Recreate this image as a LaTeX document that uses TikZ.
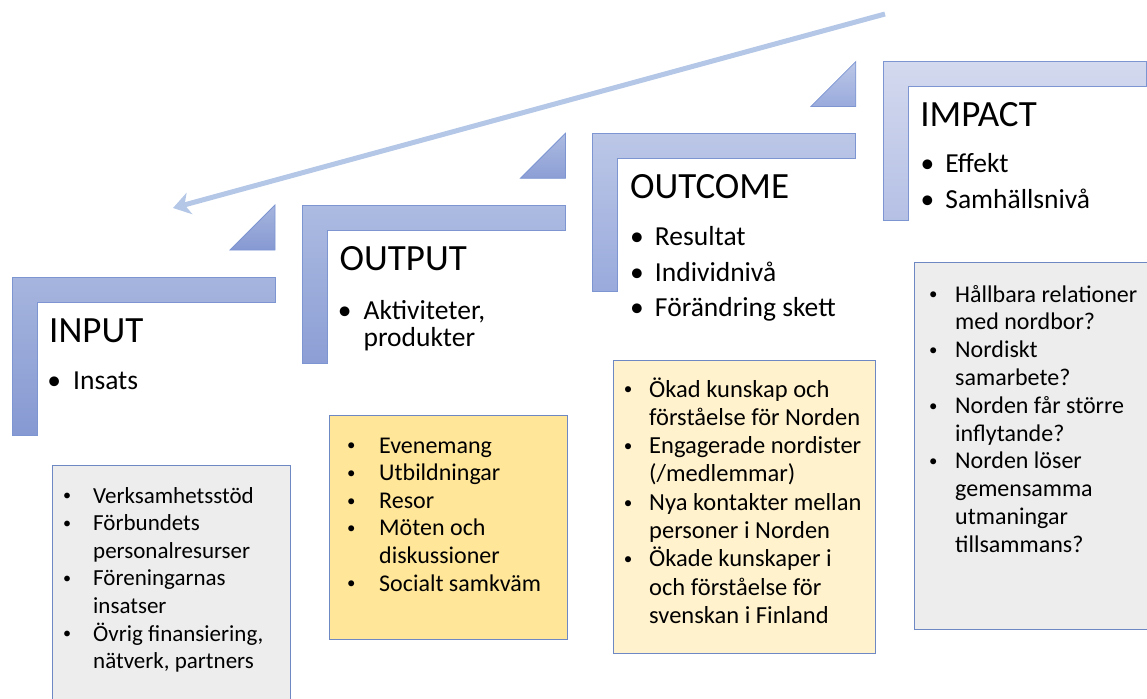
\documentclass[tikz,border=0pt]{standalone}
\usepackage{fontspec}
\setmainfont{Carlito}
\usetikzlibrary{arrows.meta}

\definecolor{stepAtop}{RGB}{166,181,222}
\definecolor{stepAbot}{RGB}{134,153,210}
\definecolor{stepBtop}{RGB}{172,187,225}
\definecolor{stepBbot}{RGB}{140,158,213}
\definecolor{stepCtop}{RGB}{188,199,231}
\definecolor{stepCbot}{RGB}{153,170,220}
\definecolor{stepDtop}{RGB}{211,217,238}
\definecolor{stepDbot}{RGB}{181,192,229}
\definecolor{stepline}{RGB}{125,150,210}
\definecolor{boxline}{RGB}{110,136,196}
\definecolor{graybox}{RGB}{237,237,237}
\definecolor{yellowbox}{RGB}{255,230,153}
\definecolor{paleyellow}{RGB}{255,242,204}
\definecolor{backarrow}{RGB}{180,199,231}

\newcommand{\headfont}{\fontsize{37}{44}\selectfont}
\newcommand{\stepfont}{\fontsize{27.5}{27}\selectfont}
\newcommand{\bul}[1]{\hspace*{#1pt}\makebox[0pt]{\textbullet}}
\newcommand{\sbul}[1]{\hspace*{#1pt}\makebox[0pt]{\raisebox{0.09em}{\scalebox{0.7}{\textbullet}}}}

\begin{document}
\begin{tikzpicture}[x=1pt,y=-1pt,
  stepshape/.style={draw=stepline,line width=0.8pt},
  headtext/.style={anchor=base west,inner sep=0pt,font=\headfont},
  steplist/.style={anchor=base west,inner sep=0pt,font=\stepfont},
  listbox/.style={draw=boxline,line width=1.2pt,anchor=north west,inner sep=0pt},
  boxtext/.style={anchor=base west,inner sep=0pt}]
\useasboundingbox (0,0) rectangle (1147,698);

% arrow back from impact to input
\coordinate (arrowtail) at (885,14);
\coordinate (arrowtip) at (173,208);
\draw[backarrow,line width=5pt,-{Stealth[length=17pt,width=22pt,inset=5pt]}] (arrowtail) -- (arrowtip);

% the four steps
\foreach \i/\ct/\cb/\head in {0/stepAtop/stepAbot/INPUT,1/stepBtop/stepBbot/OUTPUT,2/stepCtop/stepCbot/OUTCOME,3/stepDtop/stepDbot/IMPACT} {
\pgfmathsetmacro{\x}{12+290.4*\i}
\pgfmathsetmacro{\y}{277-71.7*\i}
\coordinate (corner\i) at (\x,\y);
\shadedraw[stepshape,top color=\ct,bottom color=\cb] (\x,\y) -- (\x+263,\y) -- (\x+263,\y+25) -- (\x+25,\y+25) -- (\x+25,\y+158) -- (\x,\y+158) -- cycle;
\ifnum\i<3
\shadedraw[stepshape,top color=\ct,bottom color=\cb] (\x+218,\y-27) -- (\x+263,\y-27) -- (\x+263,\y-72) -- cycle;
\fi
\node[headtext] (head\i) at (\x+37,\y+65) {\head};
}

\node[steplist] (items0) at ([shift={(0,112)}]corner0) {\begin{tabular}[t]{@{}p{61pt}@{}l@{}}
\bul{42} & Insats
\end{tabular}};
\node[steplist] (items1) at ([shift={(0,114)}]corner1) {\begin{tabular}[t]{@{}p{61pt}@{}l@{}}
\bul{42} & Aktiviteter,\\
 & produkter
\end{tabular}};
\node[steplist] (items2) at ([shift={(0,112)}]corner2) {\begin{tabular}[t]{@{}p{62pt}@{}l@{}}
\bul{44} & Resultat\\[8pt]
\bul{44} & Individnivå\\[8pt]
\bul{44} & Förändring skett
\end{tabular}};
\node[steplist] (items3) at ([shift={(0,111)}]corner3) {\begin{tabular}[t]{@{}p{62pt}@{}l@{}}
\bul{44} & Effekt\\[8pt]
\bul{44} & Samhällsnivå
\end{tabular}};

% boxes below the steps
\node[listbox,fill=graybox,minimum width=238pt,minimum height=240pt] (inputbox) at (52,465) {};
\node[listbox,fill=yellowbox,minimum width=238pt,minimum height=224pt] (outputbox) at (329,415) {};
\node[listbox,fill=paleyellow,minimum width=262pt,minimum height=293pt] (outcomebox) at (613,360) {};
\node[listbox,fill=graybox,minimum width=245pt,minimum height=367pt] (impactbox) at (914,262) {};

\node[boxtext,font=\fontsize{23}{27.6}\selectfont] (inputtext) at ([yshift=-38pt]inputbox.north west) {\begin{tabular}[t]{@{}p{41pt}@{}l@{}}
\sbul{15} & Verksamhetsstöd\\
\sbul{15} & Förbundets\\
 & personalresurser\\
\sbul{15} & Föreningarnas\\
 & insatser\\
\sbul{15} & Övrig finansiering,\\
 & nätverk, partners
\end{tabular}};
\node[boxtext,font=\fontsize{24}{27.6}\selectfont] (outputtext) at ([yshift=-38pt]outputbox.north west) {\begin{tabular}[t]{@{}p{50pt}@{}l@{}}
\sbul{22} & Evenemang\\
\sbul{22} & Utbildningar\\
\sbul{22} & Resor\\
\sbul{22} & Möten och\\
 & diskussioner\\
\sbul{22} & Socialt samkväm
\end{tabular}};
\node[boxtext,font=\fontsize{24.5}{28.3}\selectfont] (outcometext) at ([yshift=-37pt]outcomebox.north west) {\begin{tabular}[t]{@{}p{36pt}@{}l@{}}
\sbul{15} & Ökad kunskap och\\
 & förståelse för Norden\\
\sbul{15} & Engagerade nordister\\
 & (/medlemmar)\\
\sbul{15} & Nya kontakter mellan\\
 & personer i Norden\\
\sbul{15} & Ökade kunskaper i\\
 & och förståelse för\\
 & svenskan i Finland
\end{tabular}};
\node[boxtext,font=\fontsize{24}{27.8}\selectfont] (impacttext) at ([yshift=-40pt]impactbox.north west) {\begin{tabular}[t]{@{}p{41pt}@{}l@{}}
\sbul{19} & Hållbara relationer\\
 & med nordbor?\\
\sbul{19} & Nordiskt\\
 & samarbete?\\
\sbul{19} & Norden får större\\
 & inflytande?\\
\sbul{19} & Norden löser\\
 & gemensamma\\
 & utmaningar\\
 & tillsammans?
\end{tabular}};
\end{tikzpicture}
\end{document}
